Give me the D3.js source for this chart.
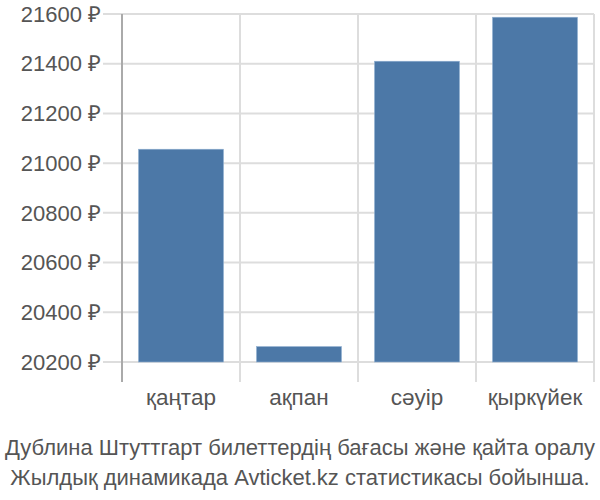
<!DOCTYPE html>
<html>
<head>
<meta charset="utf-8">
<script src="https://cdn.jsdelivr.net/npm/d3@7"></script>
<style>
  body { margin: 0; background: #fff; }
  text { font-family: "Liberation Sans", Arial, sans-serif; fill: #555; }
</style>
</head>
<body>
<div id="canvas"></div>
<script>
var categories = ["қаңтар", "ақпан", "сәуір", "қыркүйек"];
var prices = [21056, 20262, 21410, 21587];
var yTicks = [20200, 20400, 20600, 20800, 21000, 21200, 21400, 21600];
var captionLines = [
  "Дублина Штуттгарт билеттердің бағасы және қайта оралу",
  "Жылдық динамикада Avticket.kz статистикасы бойынша."
];

var svg = d3.select("#canvas").append("svg").attr("width", 600).attr("height", 500);

var x = d3.scaleBand().domain(categories).range([122, 594]).paddingInner(0.28).paddingOuter(0.14);
var y = d3.scaleLinear().domain([20200, 21600]).range([362, 14]);

// horizontal grid + tick labels
svg.selectAll("line.hgrid")
  .data(yTicks)
  .enter()
  .append("line")
  .attr("class", "hgrid")
  .attr("x1", 103).attr("x2", 594)
  .attr("y1", d => y(d)).attr("y2", d => y(d))
  .attr("stroke", "#ddd").attr("stroke-width", 2);

svg.selectAll("text.ytick")
  .data(yTicks)
  .enter()
  .append("text")
  .attr("class", "ytick")
  .attr("x", 101)
  .attr("y", d => y(d))
  .attr("dy", "0.35em")
  .attr("text-anchor", "end")
  .style("font-size", "22px")
  .text(d => d + " ₽");

// vertical grid at band edges
var step = x.step();
var edges = d3.range(1, categories.length + 1).map(i => 122 + i * step);
svg.selectAll("line.vgrid")
  .data(edges)
  .enter()
  .append("line")
  .attr("class", "vgrid")
  .attr("x1", d => d).attr("x2", d => d)
  .attr("y1", 14).attr("y2", 382)
  .attr("stroke", "#ddd").attr("stroke-width", 2);

svg.append("line")
  .attr("x1", 122).attr("x2", 122)
  .attr("y1", 14).attr("y2", 382)
  .attr("stroke", "#aaa").attr("stroke-width", 2);

// bars
svg.selectAll("rect.bar")
  .data(prices)
  .enter()
  .append("rect")
  .attr("class", "bar")
  .attr("x", (d, i) => x(categories[i]))
  .attr("width", x.bandwidth())
  .attr("y", d => y(d))
  .attr("height", d => y(20200) - y(d))
  .attr("fill", "#4c78a7")
  .attr("stroke", "#8fafd0")
  .attr("stroke-width", 0.6);

// category labels
svg.selectAll("text.xtick")
  .data(categories)
  .enter()
  .append("text")
  .attr("class", "xtick")
  .attr("x", d => x(d) + x.bandwidth() / 2)
  .attr("y", 405)
  .attr("text-anchor", "middle")
  .style("font-size", "22.5px")
  .text(d => d);

// caption
svg.selectAll("text.caption")
  .data(captionLines)
  .enter()
  .append("text")
  .attr("class", "caption")
  .attr("x", 300)
  .attr("y", (d, i) => 455 + i * 30)
  .attr("text-anchor", "middle")
  .style("font-size", "22px")
  .text(d => d);
</script>
</body>
</html>
